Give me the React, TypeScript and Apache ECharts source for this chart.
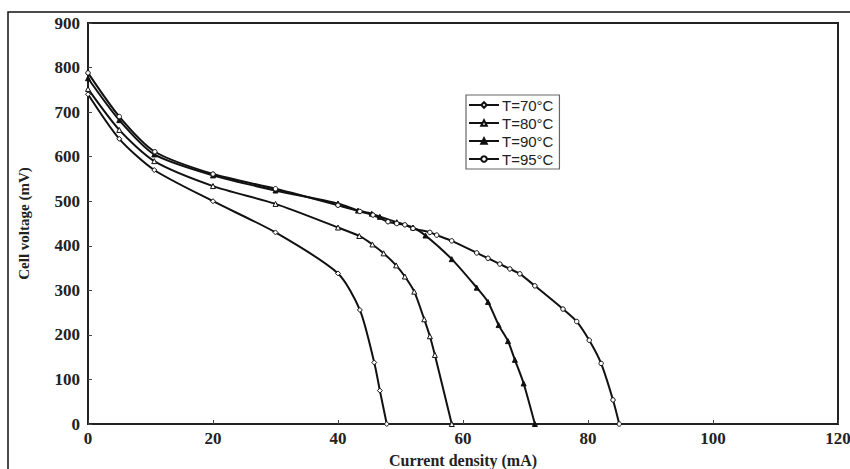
import React, { useEffect, useRef } from "react";
import * as echarts from "echarts";

const seriesNames = ["T=70°C", "T=80°C", "T=90°C", "T=95°C"];
const xAxisTitle = "Current density (mA)";
const yAxisTitle = "Cell voltage (mV)";

const cd70 = [0, 5, 10.6, 20, 30, 40, 43.5, 45.8, 46.7, 47.8];
const v70 = [740, 640, 570, 500, 430, 338, 256, 138, 75, 0];

const cd80 = [0, 5, 10.6, 20, 30, 40, 43.4, 45.5, 47.3, 49.3, 50.7, 52.2, 53.8, 54.7, 55.5, 58.2];
const v80 = [752, 660, 590, 534, 494, 441, 422, 403, 383, 356, 331, 297, 235, 197, 155, 0];

const cd90 = [0, 5, 10.6, 20, 30, 40, 43.2, 45.4, 46.7, 49.4, 52, 54, 58.2, 62.2, 64, 65.7, 67.2, 68.3, 69.7, 71.5];
const v90 = [776, 682, 605, 558, 524, 495, 479, 472, 465, 453, 441, 423, 370, 306, 274, 222, 186, 144, 91, 0];

const cd95 = [0, 5, 10.7, 20, 30, 40, 43.5, 45.6, 48, 49.4, 50.7, 52, 54.7, 55.8, 58.2, 62.2, 64, 65.9, 67.5, 69.1, 71.5, 76, 78.2, 80.2, 82.1, 84, 85];
const v95 = [788, 690, 611, 561, 528, 491, 477, 469, 454, 450, 447, 439, 430, 424, 411, 384, 372, 359, 348, 337, 310, 258, 230, 188, 136, 54, 0];

const xTicks = [0, 20, 40, 60, 80, 100, 120];
const yTicks = [0, 100, 200, 300, 400, 500, 600, 700, 800, 900];

const pair = (xs: number[], ys: number[]) => xs.map((x, i) => [x, ys[i]]);

export default function App() {
  const ref = useRef<HTMLDivElement>(null);
  useEffect(() => {
    document.body.style.margin = "0";
    const chart = echarts.init(ref.current!, null, { renderer: "svg" });
    const serif = "'Liberation Serif', 'DejaVu Serif', serif";
    const sans = "'Liberation Sans', Arial, sans-serif";
    const mk = (
      name: string,
      data: number[][],
      symbol: string,
      fill: string,
      size: number
    ) => ({
      name,
      type: "line",
      data,
      smooth: 0.25,
      symbol,
      symbolSize: size,
      showAllSymbol: true,
      lineStyle: { color: "#111", width: 2 },
      itemStyle: { color: fill, borderColor: "#111", borderWidth: 1 },
      emphasis: { disabled: true },
    });
    chart.setOption({
      animation: false,
      backgroundColor: "#fff",
      grid: {
        left: 88,
        right: 12,
        top: 23,
        bottom: 45,
        containLabel: false,
        outerBoundsMode: "none",
        show: true,
        borderColor: "#222",
        borderWidth: 2,
        backgroundColor: "transparent",
      },
      legend: {
        data: seriesNames,
        orient: "vertical",
        left: 466,
        top: 95,
        itemWidth: 30,
        itemHeight: 7,
        itemGap: 2,
        padding: [2, 6, 2, 2],
        borderColor: "#666",
        borderWidth: 1.2,
        borderRadius: 0,
        textStyle: { fontFamily: sans, fontSize: 15, color: "#222", lineHeight: 16, padding: [0, 0, 0, -2] },
      },
      xAxis: {
        type: "value",
        min: 0,
        max: 120,
        interval: 20,
        axisLine: { show: true, lineStyle: { color: "#222", width: 2 } },
        axisTick: { show: true, inside: true, length: 4, lineStyle: { color: "#444", width: 1 } },
        axisLabel: {
          fontFamily: serif,
          fontWeight: "bold",
          fontSize: 17,
          color: "#222",
          margin: 6,
          formatter: (v: number) => (xTicks.includes(v) ? String(v) : ""),
        },
        splitLine: { show: false },
      },
      yAxis: {
        type: "value",
        min: 0,
        max: 900,
        interval: 100,
        name: yAxisTitle,
        nameLocation: "middle",
        nameGap: 57,
        nameTextStyle: { fontFamily: serif, fontWeight: "bold", fontSize: 15, color: "#222" },
        axisLine: { show: true, lineStyle: { color: "#222", width: 2 } },
        axisTick: { show: true, inside: true, length: 4, lineStyle: { color: "#444", width: 1 } },
        axisLabel: {
          fontFamily: serif,
          fontWeight: "bold",
          fontSize: 17,
          color: "#222",
          margin: 8,
          formatter: (v: number) => (yTicks.includes(v) ? String(v) : ""),
        },
        splitLine: { show: false },
      },
      graphic: [
        {
          type: "rect",
          shape: { x: 8, y: 12, width: 900, height: 500 },
          style: { fill: "none", stroke: "#111", lineWidth: 1.5 },
          silent: true,
        },
        {
          type: "text",
          x: 463,
          y: 460,
          style: {
            text: xAxisTitle,
            fontFamily: serif,
            fontWeight: "bold",
            fontSize: 16,
            fill: "#222",
            align: "center",
            verticalAlign: "middle",
          },
          silent: true,
        },
      ],
      series: [
        mk(seriesNames[0], pair(cd70, v70), "diamond", "#fff", 5),
        mk(seriesNames[1], pair(cd80, v80), "triangle", "#fff", 5),
        mk(seriesNames[2], pair(cd90, v90), "triangle", "#111", 5),
        mk(seriesNames[3], pair(cd95, v95), "circle", "#fff", 4.5),
      ],
    });
    return () => chart.dispose();
  }, []);
  return <div ref={ref} style={{ width: 850, height: 469 }} />;
}
